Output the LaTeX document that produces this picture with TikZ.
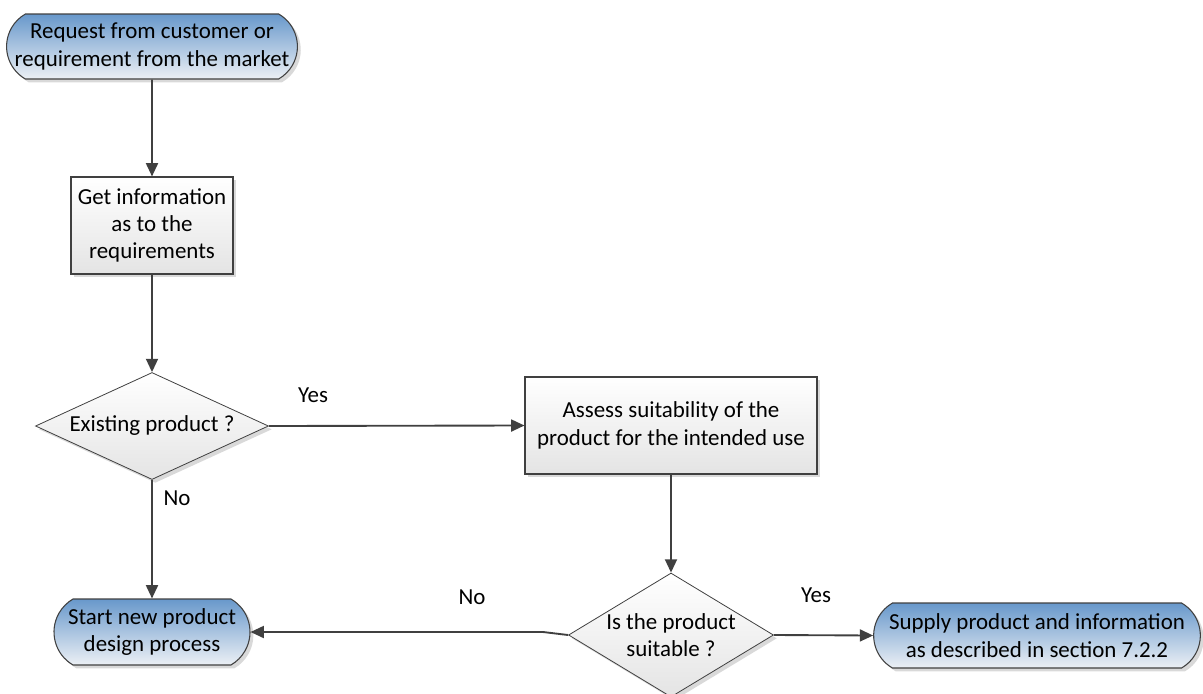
\documentclass[tikz,border=0pt]{standalone}
\usepackage{fontspec}
\setmainfont{Carlito}
\usetikzlibrary{calc,shapes.geometric,shapes.misc,shadows,arrows.meta}

\definecolor{termtop}{RGB}{104,152,203}
\definecolor{termbot}{RGB}{236,240,245}
\definecolor{boxbot}{RGB}{228,228,228}
\definecolor{linegray}{RGB}{64,64,64}

\tikzset{
    chart/.style={font=\fontsize{17.2pt}{20.5pt}\selectfont, align=center, inner sep=0pt},
    terminal/.style={chart, rounded rectangle, rounded rectangle arc length=120,
        draw=linegray, line width=0.8pt, top color=termtop, bottom color=termbot,
        general shadow={fill=black!15, shadow xshift=2.5pt, shadow yshift=-2.5pt}},
    process/.style={chart, rectangle, draw=linegray, line width=0.8pt,
        top color=white, bottom color=boxbot,
        general shadow={fill=black!15, shadow xshift=2.5pt, shadow yshift=-2.5pt}},
    decision/.style={chart, diamond, draw=linegray, line width=0.6pt,
        top color=white, bottom color=boxbot,
        general shadow={fill=black!15, shadow xshift=2.5pt, shadow yshift=-2.5pt}},
    flow/.style={draw=linegray, line width=1.4pt, -{Triangle[length=10pt,width=9pt]}},
    answer/.style={chart}
}

\begin{document}
\begin{tikzpicture}[x=0.75pt, y=-0.75pt]
    \useasboundingbox (0,0) rectangle (1203,693);

    % Define the centres of the shapes
    \coordinate (S) at (152, 46.5);
    \coordinate (G) at (152, 225.5);
    \coordinate (E) at (152, 426);
    \coordinate (A) at (671, 425.5);
    \coordinate (D) at (671, 635);
    \coordinate (N) at (152, 632);
    \coordinate (P) at (1037, 635.5);

    % Draw the shapes
    \node[terminal, minimum width=217.5pt, minimum height=48.75pt] (request) at (S)
        {Request from customer or\\requirement from the market};
    \node[process, minimum width=121.5pt, minimum height=72.75pt] (getinfo) at (G)
        {Get information\\as to the\\requirements};
    \node[decision, aspect=2.18, minimum width=174.75pt, minimum height=80.25pt] (existing) at (E)
        {Existing product ?};
    \node[process, minimum width=219pt, minimum height=72.75pt] (assess) at (A)
        {Assess suitability of the\\product for the intended use};
    \node[decision, aspect=1.65, minimum width=153.75pt, minimum height=93pt] (suitable) at (D)
        {Is the product\\suitable ?};
    \node[terminal, minimum width=147pt, minimum height=49.5pt] (newdesign) at (N)
        {Start new product\\design process};
    \node[terminal, minimum width=245pt, minimum height=48.75pt] (supply) at (P)
        {Supply product and information\\as described in section 7.2.2};

    % Draw the connectors
    \draw[flow] (request) -- (getinfo);
    \draw[flow] (getinfo) -- (existing);
    \draw[flow] (existing.east) -- (assess.west);
    \draw[flow] (existing.south) -- (newdesign.north);
    \draw[flow] (assess.south) -- (suitable.north);
    \draw[flow] (suitable.east) -- (supply.west);

    \coordinate (kink) at (543, 632);
    \draw[flow] (suitable.west) -- (kink) -- (newdesign.east);

    % Yes / No labels
    \node[answer] (yes1) at (313, 395) {Yes};
    \node[answer] (no1)  at (177, 498) {No};
    \node[answer] (no2)  at (472, 597) {No};
    \node[answer] (yes2) at (816, 595) {Yes};

\end{tikzpicture}
\end{document}
